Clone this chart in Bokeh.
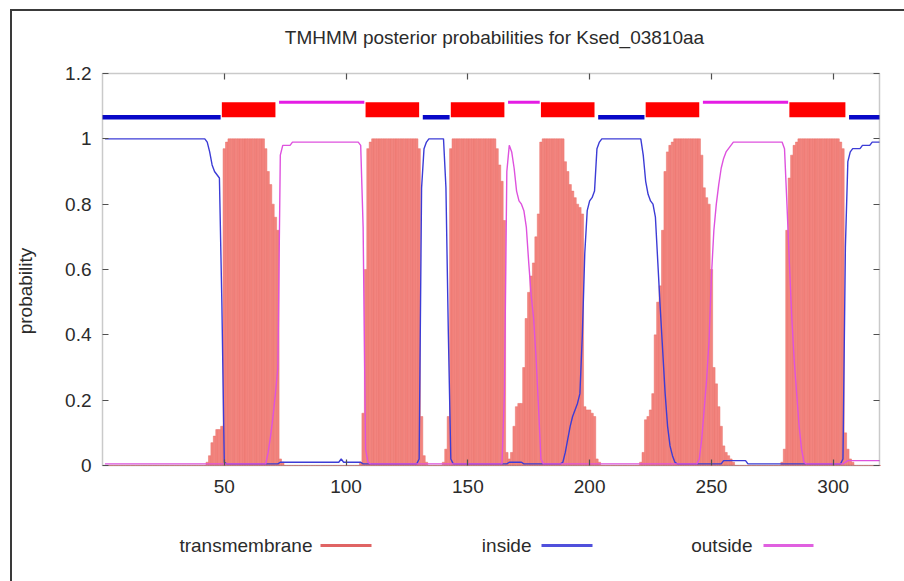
from bokeh.plotting import figure
from bokeh.models import (Range1d, LinearAxis, FixedTicker, Label, Arrow,
                          NumeralTickFormatter, BoxAnnotation)
from bokeh.embed import file_html
from bokeh.resources import INLINE

# ---------------- data ----------------
title_text = "TMHMM posterior probabilities for Ksed_03810aa"
seq_length = 319
x_ticks = [50, 100, 150, 200, 250, 300]
y_ticks = [0, 0.2, 0.4, 0.6, 0.8, 1.0, 1.2]
legend_labels = ["transmembrane", "inside", "outside"]

# predicted topology (residue intervals)
seg_start = [1, 50, 72, 109, 131, 144, 166, 181, 203, 224, 246, 283, 306]
seg_end = [49, 71, 108, 130, 143, 165, 180, 202, 223, 245, 282, 305, 319]
seg_type = ["inside", "TMhelix", "outside", "TMhelix", "inside", "TMhelix", "outside",
            "TMhelix", "inside", "TMhelix", "outside", "TMhelix", "inside"]

# posterior probability of transmembrane, residues 1..319
tm_prob = [
    0, 0, 0, 0, 0, 0, 0, 0, 0, 0,                                  # 1-10
    0, 0, 0, 0, 0, 0, 0, 0, 0, 0,                                  # 11-20
    0, 0, 0, 0, 0, 0, 0, 0, 0, 0,                                  # 21-30
    0, 0, 0, 0, 0, 0, 0, 0, 0, 0,                                  # 31-40
    0, 0, 0.01, 0.03, 0.07, 0.09, 0.11, 0.11, 0.12, 0.97,          # 41-50
    0.99, 1, 1, 1, 1, 1, 1, 1, 1, 1,                               # 51-60
    1, 1, 1, 1, 1, 1, 0.97, 0.9, 0.86, 0.8,                        # 61-70
    0.76, 0.72, 0.02, 0.01, 0, 0, 0, 0, 0, 0,                      # 71-80
    0, 0, 0, 0, 0, 0, 0, 0, 0, 0,                                  # 81-90
    0, 0, 0, 0, 0, 0, 0, 0, 0, 0,                                  # 91-100
    0, 0, 0, 0, 0, 0.01, 0.16, 0.6, 0.97, 0.99,                    # 101-110
    1, 1, 1, 1, 1, 1, 1, 1, 1, 1,                                  # 111-120
    1, 1, 1, 1, 1, 1, 1, 1, 1, 0.97,                               # 121-130
    0.15, 0.03, 0.01, 0, 0, 0, 0, 0, 0, 0.01,                      # 131-140
    0.05, 0.15, 0.97, 1, 1, 1, 1, 1, 1, 1,                         # 141-150
    1, 1, 1, 1, 1, 1, 1, 1, 1, 1,                                  # 151-160
    1, 0.97, 0.92, 0.87, 0.75, 0.04, 0.02, 0.04, 0.12, 0.18,       # 161-170
    0.19, 0.19, 0.3, 0.45, 0.53, 0.58, 0.62, 0.7, 0.77, 0.99,      # 171-180
    1, 1, 1, 1, 1, 1, 1, 1, 1, 0.93,                               # 181-190
    0.9, 0.86, 0.84, 0.82, 0.8, 0.79, 0.77, 0.18, 0.17, 0.17,      # 191-200
    0.16, 0.15, 0.02, 0.01, 0, 0, 0, 0, 0, 0,                      # 201-210
    0, 0, 0, 0, 0, 0, 0, 0, 0, 0,                                  # 211-220
    0.01, 0.04, 0.14, 0.15, 0.17, 0.22, 0.4, 0.5, 0.55, 0.72,      # 221-230
    0.9, 0.96, 0.98, 0.99, 1, 1, 1, 1, 1, 1,                       # 231-240
    1, 1, 1, 1, 1, 0.95, 0.85, 0.82, 0.8, 0.6,                     # 241-250
    0.3, 0.25, 0.18, 0.12, 0.06, 0.04, 0.03, 0.02, 0.01, 0,        # 251-260
    0, 0, 0, 0, 0, 0, 0, 0, 0, 0,                                  # 261-270
    0, 0, 0, 0, 0, 0, 0, 0, 0.01, 0.05,                            # 271-280
    0.72, 0.88, 0.95, 0.98, 0.99, 1, 1, 1, 1, 1,                   # 281-290
    1, 1, 1, 1, 1, 1, 1, 1, 1, 1,                                  # 291-300
    1, 1, 0.99, 0.97, 0.1, 0.05, 0.02, 0.01, 0, 0,                 # 301-310
    0, 0, 0, 0, 0, 0, 0, 0, 0,                                     # 311-319
]

# posterior probability of inside
in_prob = [
    1, 1, 1, 1, 1, 1, 1, 1, 1, 1,                                  # 1-10
    1, 1, 1, 1, 1, 1, 1, 1, 1, 1,                                  # 11-20
    1, 1, 1, 1, 1, 1, 1, 1, 1, 1,                                  # 21-30
    1, 1, 1, 1, 1, 1, 1, 1, 1, 1,                                  # 31-40
    1, 1, 0.99, 0.96, 0.92, 0.9, 0.89, 0.88, 0.5, 0.01,            # 41-50
    0.005, 0.005, 0.005, 0.005, 0.005, 0.005, 0.005, 0.005, 0.005, 0.005,  # 51-60
    0.005, 0.005, 0.005, 0.005, 0.005, 0.005, 0.005, 0.005, 0.005, 0.005,  # 61-70
    0.005, 0.005, 0.01, 0.01, 0.01, 0.01, 0.01, 0.01, 0.01, 0.01,  # 71-80
    0.01, 0.01, 0.01, 0.01, 0.01, 0.01, 0.01, 0.01, 0.01, 0.01,    # 81-90
    0.01, 0.01, 0.01, 0.01, 0.01, 0.01, 0.01, 0.02, 0.01, 0.01,    # 91-100
    0.01, 0.01, 0.01, 0.01, 0.01, 0.01, 0.005, 0.005, 0.005, 0.005,  # 101-110
    0.005, 0.005, 0.005, 0.005, 0.005, 0.005, 0.005, 0.005, 0.005, 0.005,  # 111-120
    0.005, 0.005, 0.005, 0.005, 0.005, 0.005, 0.005, 0.005, 0.005, 0.02,   # 121-130
    0.85, 0.97, 0.99, 1, 1, 1, 1, 1, 1, 1,                         # 131-140
    0.85, 0.4, 0.02, 0.005, 0.005, 0.005, 0.005, 0.005, 0.005, 0.005,      # 141-150
    0.005, 0.005, 0.005, 0.005, 0.005, 0.005, 0.005, 0.005, 0.005, 0.005,  # 151-160
    0.005, 0.005, 0.005, 0.005, 0.005, 0.005, 0.01, 0.01, 0.01, 0.01,      # 161-170
    0.01, 0.01, 0.005, 0.005, 0.005, 0.005, 0.005, 0.005, 0.005, 0.005,    # 171-180
    0.005, 0.005, 0.005, 0.005, 0.005, 0.005, 0.005, 0.005, 0.01, 0.04,    # 181-190
    0.08, 0.12, 0.15, 0.17, 0.19, 0.22, 0.4, 0.65, 0.78, 0.81,     # 191-200
    0.82, 0.84, 0.97, 0.99, 1, 1, 1, 1, 1, 1,                      # 201-210
    1, 1, 1, 1, 1, 1, 1, 1, 1, 1,                                  # 211-220
    1, 0.95, 0.87, 0.83, 0.81, 0.8, 0.76, 0.62, 0.48, 0.35,        # 221-230
    0.22, 0.12, 0.06, 0.03, 0.01, 0.005, 0.005, 0.005, 0.005, 0.005,       # 231-240
    0.005, 0.005, 0.005, 0.005, 0.005, 0.005, 0.005, 0.005, 0.005, 0.005,  # 241-250
    0.005, 0.005, 0.005, 0.005, 0.015, 0.015, 0.015, 0.015, 0.015, 0.015,  # 251-260
    0.015, 0.015, 0.015, 0.015, 0.005, 0.005, 0.005, 0.005, 0.005, 0.005,  # 261-270
    0.005, 0.005, 0.005, 0.005, 0.005, 0.005, 0.005, 0.005, 0.005, 0.005,  # 271-280
    0.005, 0.005, 0.005, 0.005, 0.005, 0.005, 0.005, 0.005, 0.005, 0.005,  # 281-290
    0.005, 0.005, 0.005, 0.005, 0.005, 0.005, 0.005, 0.005, 0.005, 0.005,  # 291-300
    0.005, 0.005, 0.005, 0.02, 0.67, 0.93, 0.96, 0.97, 0.97, 0.97,         # 301-310
    0.97, 0.98, 0.98, 0.98, 0.98, 0.99, 0.99, 0.99, 0.99,                  # 311-319
]

# posterior probability of outside
out_prob = [
    0.005, 0.005, 0.005, 0.005, 0.005, 0.005, 0.005, 0.005, 0.005, 0.005,  # 1-10
    0.005, 0.005, 0.005, 0.005, 0.005, 0.005, 0.005, 0.005, 0.005, 0.005,  # 11-20
    0.005, 0.005, 0.005, 0.005, 0.005, 0.005, 0.005, 0.005, 0.005, 0.005,  # 21-30
    0.005, 0.005, 0.005, 0.005, 0.005, 0.005, 0.005, 0.005, 0.005, 0.005,  # 31-40
    0.005, 0.005, 0.005, 0.005, 0.005, 0.005, 0.005, 0.005, 0.005, 0.005,  # 41-50
    0.005, 0.005, 0.005, 0.005, 0.005, 0.005, 0.005, 0.005, 0.005, 0.005,  # 51-60
    0.005, 0.005, 0.005, 0.005, 0.005, 0.005, 0.005, 0.04, 0.09, 0.15,     # 61-70
    0.22, 0.3, 0.95, 0.98, 0.98, 0.98, 0.98, 0.99, 0.99, 0.99,     # 71-80
    0.99, 0.99, 0.99, 0.99, 0.99, 0.99, 0.99, 0.99, 0.99, 0.99,    # 81-90
    0.99, 0.99, 0.99, 0.99, 0.99, 0.99, 0.99, 0.99, 0.99, 0.99,    # 91-100
    0.99, 0.99, 0.99, 0.99, 0.99, 0.98, 0.73, 0.05, 0.01, 0.005,   # 101-110
    0.005, 0.005, 0.005, 0.005, 0.005, 0.005, 0.005, 0.005, 0.005, 0.005,  # 111-120
    0.005, 0.005, 0.005, 0.005, 0.005, 0.005, 0.005, 0.005, 0.005, 0.005,  # 121-130
    0.005, 0.005, 0.005, 0.005, 0.005, 0.005, 0.005, 0.005, 0.005, 0.005,  # 131-140
    0.005, 0.005, 0.005, 0.005, 0.005, 0.005, 0.005, 0.005, 0.005, 0.005,  # 141-150
    0.005, 0.005, 0.005, 0.005, 0.005, 0.005, 0.005, 0.005, 0.005, 0.005,  # 151-160
    0.005, 0.005, 0.005, 0.005, 0.22, 0.9, 0.98, 0.96, 0.91, 0.84,         # 161-170
    0.81, 0.8, 0.78, 0.73, 0.62, 0.52, 0.45, 0.33, 0.18, 0.02,     # 171-180
    0.005, 0.005, 0.005, 0.005, 0.005, 0.005, 0.005, 0.005, 0.005, 0.005,  # 181-190
    0.005, 0.005, 0.005, 0.005, 0.005, 0.005, 0.005, 0.005, 0.005, 0.005,  # 191-200
    0.005, 0.005, 0.005, 0.005, 0.005, 0.005, 0.005, 0.005, 0.005, 0.005,  # 201-210
    0.005, 0.005, 0.005, 0.005, 0.005, 0.005, 0.005, 0.005, 0.005, 0.005,  # 211-220
    0.005, 0.005, 0.005, 0.005, 0.005, 0.005, 0.005, 0.005, 0.005, 0.005,  # 221-230
    0.005, 0.005, 0.005, 0.005, 0.005, 0.005, 0.005, 0.005, 0.005, 0.005,  # 231-240
    0.005, 0.005, 0.005, 0.005, 0.02, 0.08, 0.17, 0.26, 0.38, 0.58,        # 241-250
    0.72, 0.8, 0.86, 0.91, 0.94, 0.96, 0.97, 0.98, 0.99, 0.99,     # 251-260
    0.99, 0.99, 0.99, 0.99, 0.99, 0.99, 0.99, 0.99, 0.99, 0.99,    # 261-270
    0.99, 0.99, 0.99, 0.99, 0.99, 0.99, 0.99, 0.99, 0.99, 0.97,    # 271-280
    0.8, 0.62, 0.45, 0.32, 0.22, 0.12, 0.05, 0.01, 0.005, 0.005,   # 281-290
    0.005, 0.005, 0.005, 0.005, 0.005, 0.005, 0.005, 0.005, 0.005, 0.005,  # 291-300
    0.005, 0.005, 0.005, 0.005, 0.01, 0.015, 0.015, 0.015, 0.015, 0.015,   # 301-310
    0.015, 0.015, 0.015, 0.015, 0.015, 0.015, 0.015, 0.015, 0.015,         # 311-319
]

residues = list(range(1, seq_length + 1))

# ---------------- styling / layout ----------------
FONT = "Liberation Sans"
TXT = "#2b2b2b"
FS = "19px"
W, H = 904, 581                       # canvas = whole window
BOX_L, BOX_R, BOX_T, BOX_B = 102, 879, 73, 465   # pixel box of the data area
X0, X1 = 0, seq_length
Y0, Y1 = 0, 1.2


def fx(px):
    """canvas pixel x -> data x"""
    return X0 + (px - BOX_L) / (BOX_R - BOX_L) * (X1 - X0)


def fy(py):
    """canvas pixel y -> data y"""
    return Y0 + (BOX_B - py) / (BOX_B - BOX_T) * (Y1 - Y0)


p = figure(frame_width=W, frame_height=H,
           x_range=Range1d(fx(0), fx(W)), y_range=Range1d(fy(H), fy(0)),
           x_axis_type=None, y_axis_type=None,
           output_backend="svg", toolbar_location=None,
           min_border=0, min_border_left=0, min_border_right=0,
           min_border_top=0, min_border_bottom=0)
p.background_fill_color = "white"
p.border_fill_color = "white"
p.outline_line_color = None
p.grid.visible = False


def style_axis(ax, show_labels):
    ax.axis_line_color = None
    ax.major_tick_in = 6
    ax.major_tick_out = 0
    ax.major_tick_line_color = "#505050"
    ax.major_tick_line_width = 1.2
    ax.minor_tick_line_color = None
    ax.major_label_text_font = FONT
    ax.major_label_text_color = TXT if show_labels else None
    ax.major_label_text_font_size = FS if show_labels else "0px"
    if not show_labels:
        ax.major_label_standoff = 0


xb = LinearAxis(ticker=FixedTicker(ticks=x_ticks), fixed_location=Y0)
style_axis(xb, True)
xb.major_label_standoff = 14
p.add_layout(xb, "below")

xt = LinearAxis(ticker=FixedTicker(ticks=x_ticks), fixed_location=Y1)
style_axis(xt, False)
p.add_layout(xt, "above")

yl = LinearAxis(ticker=FixedTicker(ticks=y_ticks), fixed_location=X0,
                formatter=NumeralTickFormatter(format="0.[0]"))
style_axis(yl, True)
yl.major_label_standoff = 11
yl.axis_label = "probability"
yl.axis_label_text_font = FONT
yl.axis_label_text_font_style = "normal"
yl.axis_label_text_font_size = FS
yl.axis_label_text_color = TXT
yl.axis_label_standoff = 26
p.add_layout(yl, "left")

yr = LinearAxis(ticker=FixedTicker(ticks=y_ticks), fixed_location=X1)
style_axis(yr, False)
p.add_layout(yr, "right")

# plot box
p.add_layout(BoxAnnotation(left=X0, right=X1, bottom=Y0, top=Y1, fill_color=None,
                           fill_alpha=0, line_color="#505050", line_width=1.5,
                           level="overlay"))

# ---------------- marks ----------------
TM_FILL = "#F3847E"
p.vbar(x=residues, top=tm_prob, bottom=0, width=1.0,
       fill_color=TM_FILL, line_color="#E8716B", line_width=0.5)
p.line(residues, in_prob, line_color="#3C3CD6", line_width=1.4)
p.line(residues, out_prob, line_color="#DE52DE", line_width=1.4)

# topology bar at the top
Y_IN, Y_OUT = 1.066, 1.112
tm_l = [s - 1 for s, t in zip(seg_start, seg_type) if t == "TMhelix"]
tm_r = [e for e, t in zip(seg_end, seg_type) if t == "TMhelix"]
p.quad(left=tm_l, right=tm_r, bottom=Y_IN, top=Y_OUT, fill_color="#FF0000", line_color=None)

for kind, yy, col, lw in (("inside", Y_IN, "#0808C8", 4.5), ("outside", Y_OUT, "#E41CE4", 3.2)):
    xs0 = [(s - 1 if s == 1 else s + 0.5) for s, t in zip(seg_start, seg_type) if t == kind]
    xs1 = [(e if e == seq_length else e - 0.5) for e, t in zip(seg_end, seg_type) if t == kind]
    p.segment(x0=xs0, y0=[yy] * len(xs0), x1=xs1, y1=[yy] * len(xs1),
              line_color=col, line_width=lw)

# ---------------- title ----------------
p.add_layout(Label(x=fx(494), y=fy(37), text=title_text, text_align="center",
                   text_baseline="middle", text_font=FONT, text_font_size=FS,
                   text_color=TXT))

# ---------------- legend (text then line sample) ----------------
LEG_Y = 545
leg_colors = ["#E06464", "#5050DC", "#E060E0"]
leg_text_right = [312, 531, 752]
leg_line = [(320, 371), (541, 592), (763, 813)]
for lab, col, tr, (l0, l1) in zip(legend_labels, leg_colors, leg_text_right, leg_line):
    p.add_layout(Label(x=fx(tr), y=fy(LEG_Y), text=lab, text_align="right",
                       text_baseline="middle", text_font=FONT, text_font_size=FS,
                       text_color=TXT))
    p.add_layout(Arrow(x_start=fx(l0), y_start=fy(LEG_Y), x_end=fx(l1), y_end=fy(LEG_Y),
                       start=None, end=None, line_color=col, line_width=3))

# ---------------- outer picture frame (left and top edges) ----------------
p.add_layout(Arrow(x_start=fx(10.5), y_start=fy(9), x_end=fx(10.5), y_end=fy(H),
                   start=None, end=None, line_color="#3a3a3a", line_width=2))
p.add_layout(Arrow(x_start=fx(9.5), y_start=fy(9.5), x_end=fx(W), y_end=fy(9.5),
                   start=None, end=None, line_color="#3a3a3a", line_width=2))

open("out.html", "w").write(file_html(p, INLINE))
